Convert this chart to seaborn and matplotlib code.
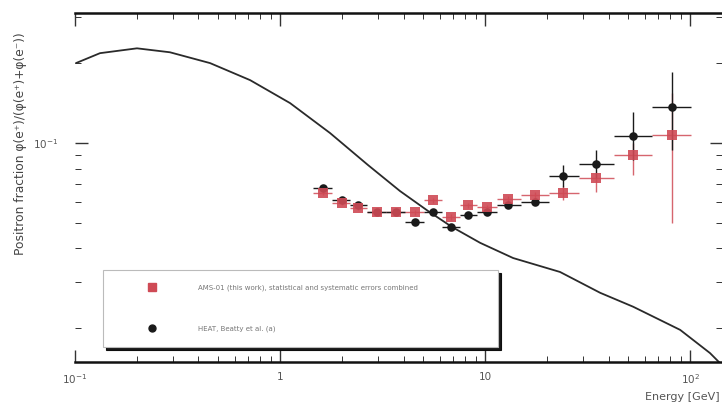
import numpy as np
import pandas as pd
import matplotlib
matplotlib.use("Agg")
import matplotlib.pyplot as plt
from matplotlib.lines import Line2D
from matplotlib.ticker import FixedLocator, FixedFormatter, LogLocator, NullFormatter
import seaborn as sns

# ---------------- data ----------------
# theory curve (secondary production model)
curve_E = [0.1011, 0.1324, 0.2006, 0.2904, 0.4558, 0.7145, 1.119, 1.754, 2.686, 3.846,
           5.27, 6.90, 9.46, 13.7, 23.2, 36.4, 52.7, 89.4, 125.0, 143.0]
curve_f = [0.2005, 0.2186, 0.2280, 0.2203, 0.2005, 0.1729, 0.1416, 0.1091, 0.0826, 0.0659,
           0.0554, 0.0482, 0.0420, 0.0368, 0.0326, 0.0272, 0.0241, 0.0197, 0.0161, 0.0145]

# energy bins
E_center = [1.62, 2.0, 2.40, 2.97, 3.68, 4.56, 5.57, 6.83, 8.26, 10.2, 12.9, 17.5, 24.0, 34.8, 52.7, 81.7]
E_low = [1.45, 1.79, 2.19, 2.65, 3.29, 4.07, 5.04, 6.17, 7.55, 9.14, 11.4, 15.0, 20.5, 28.7, 42.6, 65.3]
E_high = [1.79, 2.19, 2.65, 3.29, 4.07, 5.04, 6.17, 7.55, 9.14, 11.4, 15.0, 20.5, 28.7, 42.6, 65.3, 101.0]

# red squares
red_f = [0.0648, 0.0594, 0.0569, 0.0549, 0.0549, 0.0549, 0.0609, 0.0526, 0.0583, 0.0573,
         0.0615, 0.0636, 0.0648, 0.0738, 0.0901, 0.107]
red_lo = [0.0635, 0.0582, 0.0558, 0.0538, 0.0538, 0.0537, 0.0596, 0.0514, 0.0570, 0.0560,
          0.0600, 0.0618, 0.0609, 0.0653, 0.0757, 0.0499]
red_hi = [0.0661, 0.0606, 0.0580, 0.0560, 0.0560, 0.0561, 0.0622, 0.0538, 0.0596, 0.0586,
          0.0630, 0.0654, 0.0688, 0.0771, 0.100, 0.154]

# black circles
blk_f = [0.0676, 0.0609, 0.0583, 0.0549, 0.0549, 0.0504, 0.0549, 0.0482, 0.0535, 0.0549,
         0.0583, 0.0598, 0.0751, 0.0834, 0.106, 0.137]
blk_lo = [0.0662, 0.0597, 0.0571, 0.0538, 0.0538, 0.0492, 0.0536, 0.0470, 0.0522, 0.0536,
          0.0568, 0.0582, 0.0682, 0.0738, 0.0863, 0.0941]
blk_hi = [0.0690, 0.0621, 0.0595, 0.0560, 0.0560, 0.0516, 0.0562, 0.0494, 0.0548, 0.0562,
          0.0598, 0.0614, 0.0826, 0.0941, 0.131, 0.185]

x_ticks = [0.1, 1, 10, 100]
x_ticklabels = ["10$^{-1}$", "1", "10", "10$^{2}$"]
y_ticks = [0.1]
y_ticklabels = ["10$^{-1}$"]

red_label = "AMS-01 (this work), statistical and systematic errors combined"
blk_label = "HEAT, Beatty et al. (a)"

# ---------------- style ----------------
sns.set_theme(style="ticks")
plt.rcParams['font.family'] = ['DejaVu Sans']

RED = "#cf4a55"
BLK = "#1a1a1a"
GRAY = "#555555"

fig = plt.figure(figsize=(7.22, 4.05), dpi=100)
ax = fig.add_axes([75 / 722, 43 / 405, 647 / 722, 349 / 405])

ax.set_xscale("log")
ax.set_yscale("log")

# theory curve
df_curve = pd.DataFrame({"E": curve_E, "f": curve_f})
sns.lineplot(data=df_curve, x="E", y="f", ax=ax, color="#2a2a2a", lw=1.3, sort=False,
             estimator=None, legend=False)

E_c = np.array(E_center)
xerr = [E_c - np.array(E_low), np.array(E_high) - E_c]

rf = np.array(red_f)
bf = np.array(blk_f)
ax.errorbar(E_c, rf, xerr=xerr, yerr=[rf - np.array(red_lo), np.array(red_hi) - rf],
            fmt="none", ecolor=RED, elinewidth=1.0, capsize=0, alpha=0.85)
ax.errorbar(E_c, bf, xerr=xerr, yerr=[bf - np.array(blk_lo), np.array(blk_hi) - bf],
            fmt="none", ecolor=BLK, elinewidth=1.0, capsize=0)

df_red = pd.DataFrame({"E": E_center, "f": red_f})
df_blk = pd.DataFrame({"E": E_center, "f": blk_f})
sns.scatterplot(data=df_blk, x="E", y="f", ax=ax, marker="o", s=38, color=BLK,
                edgecolor=BLK, linewidth=0, zorder=4, legend=False)
sns.scatterplot(data=df_red, x="E", y="f", ax=ax, marker="s", s=42, color=RED,
                edgecolor=RED, linewidth=0, alpha=0.9, zorder=5, legend=False)

ax.set_xlim(0.1, 143)
ax.set_ylim(0.0149, 0.31)

# ticks
ax.xaxis.set_major_locator(FixedLocator(x_ticks))
ax.xaxis.set_major_formatter(FixedFormatter(x_ticklabels))
ax.xaxis.set_minor_locator(LogLocator(base=10, subs=np.arange(2, 10)))
ax.xaxis.set_minor_formatter(NullFormatter())
ax.yaxis.set_major_locator(FixedLocator(y_ticks))
ax.yaxis.set_major_formatter(FixedFormatter(y_ticklabels))
ax.yaxis.set_minor_locator(LogLocator(base=10, subs=np.arange(2, 10)))
ax.yaxis.set_minor_formatter(NullFormatter())

ax.tick_params(which="both", direction="in", top=True, right=True, color="#333333")
ax.tick_params(which="major", length=9, width=1.0, labelsize=7.5, labelcolor=GRAY)
ax.tick_params(which="minor", length=4.5, width=0.7)
ax.tick_params(axis="x", which="major", pad=7)
ax.tick_params(axis="y", which="major", pad=12)

for s in ["left", "right"]:
    ax.spines[s].set_visible(False)
for s in ["top", "bottom"]:
    ax.spines[s].set_linewidth(1.8)
    ax.spines[s].set_color("#111111")

ax.set_xlabel("")
ax.set_ylabel("Positron fraction φ(e⁺)/(φ(e⁺)+φ(e⁻))", fontsize=8.8, color="#444444")
ax.yaxis.set_label_coords(-0.074, 0.627)

fig.text(720 / 722, 8 / 405, "Energy [GeV]", ha="right", va="center", fontsize=8, color=GRAY)

# legend
handles = [
    Line2D([], [], marker="s", color=RED, linestyle="none", markersize=6),
    Line2D([], [], marker="o", color=BLK, linestyle="none", markersize=5),
]
leg = ax.legend(handles, [red_label, blk_label], loc="lower left",
                bbox_to_anchor=(28 / 647, 15 / 349, 395 / 647, 82 / 349), mode="expand",
                fontsize=5, labelcolor="#777777", frameon=True, fancybox=False,
                shadow={"color": "black", "alpha": 0.9}, borderpad=2.1, labelspacing=5.0,
                handlelength=10, handletextpad=1.6, borderaxespad=0)
leg.get_frame().set_edgecolor("#bbbbbb")
leg.get_frame().set_linewidth(0.8)

fig.savefig("out.png", dpi=100)
